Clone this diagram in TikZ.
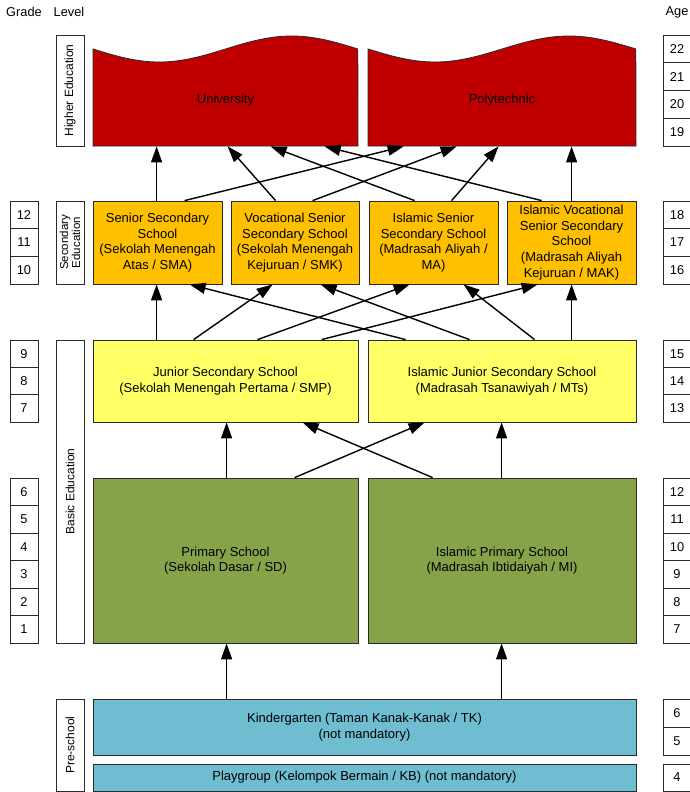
\documentclass[tikz,border=0pt]{standalone}
\usepackage{fontspec}
\setmainfont{Liberation Sans}
\usetikzlibrary{arrows.meta}
\definecolor{redc}{HTML}{C00000}
\definecolor{orangec}{HTML}{FFC000}
\definecolor{yellowc}{HTML}{FFFF66}
\definecolor{greenc}{HTML}{86A34A}
\definecolor{bluec}{HTML}{6FBDD1}
\definecolor{edgec}{HTML}{2A2A2A}
\tikzset{
  mainfont/.style={font=\fontsize{13pt}{15.6pt}\selectfont},
  box/.style={draw=edgec, line width=0.8pt, inner sep=0pt, align=center, mainfont},
  numbox/.style={draw=edgec, line width=0.8pt, inner sep=0pt, minimum width=28pt, font=\fontsize{12.8pt}{14pt}\selectfont},
  lvlbox/.style={draw=edgec, line width=0.8pt, inner sep=0pt, minimum width=28pt},
  lvltext/.style={rotate=90, align=center, font=\fontsize{12pt}{12pt}\selectfont},
  hdr/.style={font=\fontsize{12.8pt}{14pt}\selectfont, inner sep=0pt},
  arr/.style={-{Triangle[length=16pt,width=11pt]}, line width=1.4pt, draw=black},
}
\begin{document}
\begin{tikzpicture}[x=1pt,y=-1pt]
\useasboundingbox (0,0) rectangle (690,792);
\clip (0,0) rectangle (690,792);
% headers
\node[hdr] (hgrade) at (24,12) {Grade};
\node[hdr] (hlevel) at (69,12) {Level};
\node[hdr] (hage) at (677,12) {Age};
% level label boxes
\node[lvlbox, minimum height=111pt] (lh) at (70,90.5) {};
\node[lvltext] (lht) at (lh.center) {Higher Education};
\node[lvlbox, minimum height=83pt] (ls) at (70,242.5) {};
\node[lvltext, font=\fontsize{11.5pt}{12pt}\selectfont] (lst) at (ls.center) {Secondary\\Education};
\node[lvlbox, minimum height=303pt] (lb) at (70,491.5) {};
\node[lvltext] (lbt) at (lb.center) {Basic Education};
\node[lvlbox, minimum height=92pt] (lp) at (70,745) {};
\node[lvltext] (lpt) at (lp.center) {Pre-school};
% grade boxes
\foreach \n [count=\i from 0] in {12,11,10}
  \node[numbox, minimum height=27.67pt] (g\n) at (24,{214.83+27.67*\i}) {\n};
\foreach \n [count=\i from 0] in {9,8,7}
  \node[numbox, minimum height=27.33pt] (g\n) at (24,{353.67+27.33*\i}) {\n};
\foreach \n [count=\i from 0] in {6,5,4,3,2,1}
  \node[numbox, minimum height=27.5pt] (g\n) at (24,{491.75+27.5*\i}) {\n};
% age boxes
\foreach \n [count=\i from 0] in {22,21,20,19}
  \node[numbox, minimum height=27.75pt] (a\n) at (677,{48.88+27.75*\i}) {\n};
\foreach \n [count=\i from 0] in {18,17,16}
  \node[numbox, minimum height=27.67pt] (a\n) at (677,{214.83+27.67*\i}) {\n};
\foreach \n [count=\i from 0] in {15,14,13}
  \node[numbox, minimum height=27.33pt] (a\n) at (677,{353.67+27.33*\i}) {\n};
\foreach \n [count=\i from 0] in {12,11,10,9,8,7}
  \node[numbox, minimum height=27.5pt] (a\n) at (677,{491.75+27.5*\i}) {\n};
\foreach \n [count=\i from 0] in {6,5}
  \node[numbox, minimum height=28pt] (a\n) at (677,{713+28*\i}) {\n};
\node[numbox, minimum height=27pt] (a4) at (677,777.5) {4};
% higher education wave shapes
\filldraw[fill=redc, draw=edgec, line width=0.8pt] (93,146) -- (93,49) -- plot[domain=0:1,samples=80] ({93+265*\x},{49+13*sin(360*\x)}) -- (358,146) -- cycle;
\filldraw[fill=redc, draw=edgec, line width=0.8pt] (368,146) -- (368,49) -- plot[domain=0:1,samples=80] ({368+268*\x},{49+13*sin(360*\x)}) -- (636,146) -- cycle;
\node[box, draw=none, minimum width=265pt, minimum height=92pt] (uni) at (225.5,100) {University};
\node[box, draw=none, minimum width=268pt, minimum height=92pt] (poly) at (502,100) {Polytechnic};
% secondary
\node[box, fill=orangec, minimum width=129pt, minimum height=83pt] (s1) at (157.5,242.5) {Senior Secondary\\School\\(Sekolah Menengah\\Atas / SMA)};
\node[box, fill=orangec, minimum width=128pt, minimum height=83pt] (s2) at (295,242.5) {Vocational Senior\\Secondary School\\(Sekolah Menengah\\Kejuruan / SMK)};
\node[box, fill=orangec, minimum width=129pt, minimum height=83pt] (s3) at (433.5,242.5) {Islamic Senior\\Secondary School\\(Madrasah Aliyah /\\MA)};
\node[box, fill=orangec, minimum width=129pt, minimum height=83pt] (s4) at (571.5,242.5) {Islamic Vocational\\Senior Secondary\\School\\(Madrasah Aliyah\\Kejuruan / MAK)};
% junior
\node[box, fill=yellowc, minimum width=265pt, minimum height=82pt] (j1) at (225.5,381) {Junior Secondary School\\(Sekolah Menengah Pertama / SMP)};
\node[box, fill=yellowc, minimum width=268pt, minimum height=82pt] (j2) at (502,381) {Islamic Junior Secondary School\\(Madrasah Tsanawiyah / MTs)};
% primary
\node[box, fill=greenc, minimum width=265pt, minimum height=165pt] (p1) at (225.5,560.5) {Primary School\\(Sekolah Dasar / SD)};
\node[box, fill=greenc, minimum width=268pt, minimum height=165pt] (p2) at (502,560.5) {Islamic Primary School\\(Madrasah Ibtidaiyah / MI)};
% pre-school
\node[box, fill=bluec, minimum width=543pt, minimum height=56pt] (k) at (364.5,727) {Kindergarten (Taman Kanak-Kanak / TK)\\(not mandatory)};
\node[box, fill=bluec, minimum width=543pt, minimum height=27pt] (pg) at (364.5,777.5) {Playgroup (Kelompok Bermain / KB) (not mandatory)};
% secondary -> higher
\draw[arr] ([xshift=64pt]s1.north west) -- ([xshift=64pt]uni.south west);
\draw[arr] ([xshift=92pt]s1.north west) -- ([xshift=36pt]poly.south west);
\draw[arr] ([xshift=45pt]s2.north west) -- ([xshift=135pt]uni.south west);
\draw[arr] ([xshift=82pt]s2.north west) -- ([xshift=89pt]poly.south west);
\draw[arr] ([xshift=46pt]s3.north west) -- ([xshift=178pt]uni.south west);
\draw[arr] ([xshift=83pt]s3.north west) -- ([xshift=131pt]poly.south west);
\draw[arr] ([xshift=35pt]s4.north west) -- ([xshift=232pt]uni.south west);
\draw[arr] ([xshift=65pt]s4.north west) -- ([xshift=204pt]poly.south west);
% junior -> secondary
\draw[arr] ([xshift=64pt]j1.north west) -- ([xshift=64pt]s1.south west);
\draw[arr] ([xshift=38pt]j2.north west) -- ([xshift=97pt]s1.south west);
\draw[arr] ([xshift=101pt]j1.north west) -- ([xshift=42pt]s2.south west);
\draw[arr] ([xshift=102pt]j2.north west) -- ([xshift=90pt]s2.south west);
\draw[arr] ([xshift=165pt]j1.north west) -- ([xshift=41pt]s3.south west);
\draw[arr] ([xshift=167pt]j2.north west) -- ([xshift=95pt]s3.south west);
\draw[arr] ([xshift=229pt]j1.north west) -- ([xshift=31pt]s4.south west);
\draw[arr] ([xshift=204pt]j2.north west) -- ([xshift=65pt]s4.south west);
% primary -> junior
\draw[arr] ([xshift=134pt]p1.north west) -- ([xshift=134pt]j1.south west);
\draw[arr] ([xshift=65pt]p2.north west) -- ([xshift=210pt]j1.south west);
\draw[arr] ([xshift=202pt]p1.north west) -- ([xshift=57pt]j2.south west);
\draw[arr] ([xshift=134pt]p2.north west) -- ([xshift=134pt]j2.south west);
% kindergarten -> primary
\draw[arr] ([xshift=134pt]k.north west) -- ([xshift=134pt]p1.south west);
\draw[arr] ([xshift=409pt]k.north west) -- ([xshift=134pt]p2.south west);
\end{tikzpicture}
\end{document}
